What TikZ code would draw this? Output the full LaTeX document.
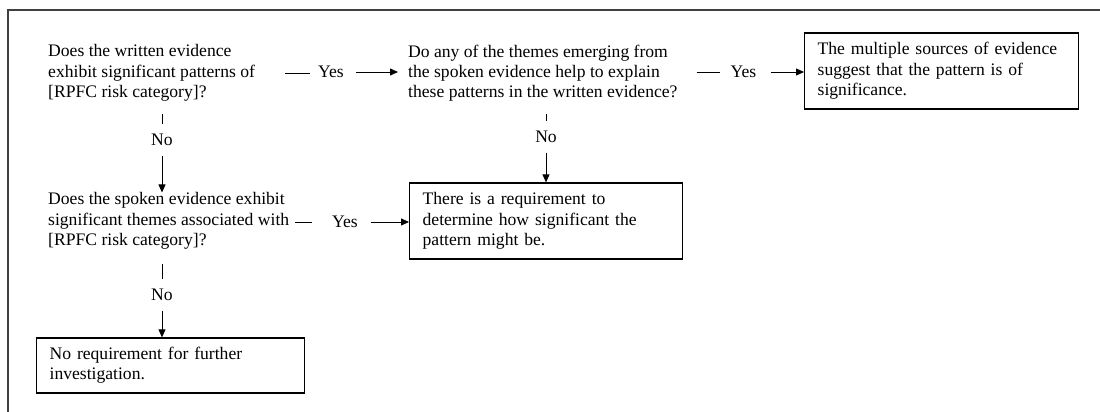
\documentclass[tikz,border=0pt]{standalone}
\usepackage{fontspec}
\setmainfont{Liberation Serif}
\usetikzlibrary{arrows.meta}
\begin{document}
\begin{tikzpicture}[x=1pt,y=1pt,
  every node/.style={font=\fontsize{17.6}{20.3}\selectfont, text=black},
  question/.style={align=left, anchor=west, inner sep=0pt},
  outcome/.style={draw, line width=1.3pt, align=left, anchor=west, inner xsep=13pt,
                  text width=#1, minimum height=76pt},
  label/.style={inner xsep=0pt, inner ysep=9.5pt},
  link/.style={line width=0.8pt},
  arrow/.style={line width=0.8pt, -{Triangle[length=8pt,width=7pt]}}
]
\useasboundingbox (0,0) rectangle (1100,-412);
% frame edges
\draw[line width=1.2pt, black!75] (8,-412) -- (8,-10) -- (1100,-10);

% questions
\node[question] (q1) at (48,-73) {Does the written evidence\\exhibit significant patterns of\\{}[RPFC risk category]?};
\node[question] (q2) at (408,-73) {Do any of the themes emerging from\\the spoken evidence help to explain\\these patterns in the written evidence?};
\node[question] (q3) at (48,-221) {Does the spoken evidence exhibit\\significant themes associated with\\{}[RPFC risk category]?};

% outcomes
\node[outcome=248pt] (o1) at (804,-71) {The multiple sources of evidence\\suggest that the pattern is of\\significance.};
\node[outcome=247pt] (o2) at (409,-221) {There is a requirement to\\determine how significant the\\pattern might be.};
\node[outcome=242pt, minimum height=55pt] (o3) at (36,-365.5) {No requirement for further\\investigation.};

% branch labels
\node[label] (y1) at (331,-72) {Yes};
\node[label] (y2) at (743.5,-72) {Yes};
\node[label] (y3) at (345,-222) {Yes};
\node[label] (n1) at (162,-140) {No};
\node[label] (n2) at (546,-137) {No};
\node[label] (n3) at (162,-295) {No};

% horizontal "Yes" connectors
\draw[link, shorten <=30pt, shorten >=8pt] (q1.east) -- (q1.east -| y1.west);
\draw[arrow, shorten <=12pt, shorten >=10pt] (y1.east) -- (y1.east -| q2.west);
\draw[link, shorten <=19pt, shorten >=11pt] (q2.east |- y2) -- (y2.west);
\draw[arrow, shorten <=14pt] (y2.east) -- (y2.east -| o1.west);
\draw[link, shorten <=6pt, shorten >=19.5pt] (q3.east |- y3) -- (y3.west);
\draw[arrow, shorten <=12.5pt] (y3.east) -- (y3.east -| o2.west);

% vertical "No" connectors
\draw[link, shorten <=12pt] (n1.north |- q1.south) -- (n1.north);
\draw[arrow] (n1.south) -- (n1.south |- q3.north);
\draw[link, shorten <=12pt] (n2.north |- q2.south) -- (n2.north);
\draw[arrow] (n2.south) -- (n2.south |- o2.north);
\draw[link, shorten <=14pt] (n3.north |- q3.south) -- (n3.north);
\draw[arrow] (n3.south) -- (n3.south |- o3.north);
\end{tikzpicture}
\end{document}
